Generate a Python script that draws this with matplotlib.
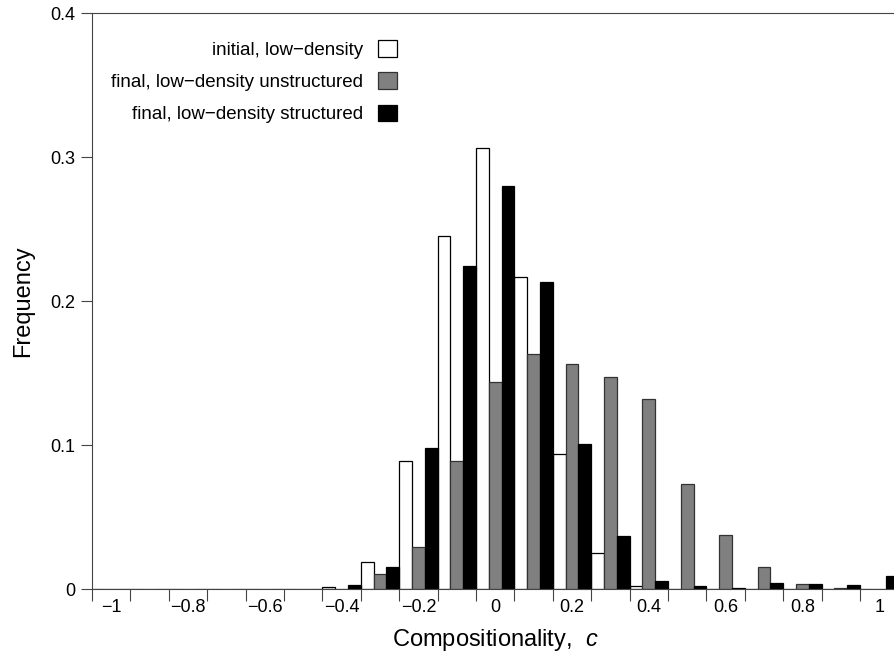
import matplotlib.pyplot as plt
import numpy as np
from matplotlib.ticker import FixedLocator, NullFormatter

plt.rcParams['font.family'] = ['Liberation Sans', 'DejaVu Sans']
plt.rcParams['mathtext.fontset'] = 'custom'
plt.rcParams['mathtext.rm'] = 'Liberation Sans'
plt.rcParams['mathtext.it'] = 'Liberation Sans:italic'

# bin centres of compositionality c
centers = np.round(np.arange(-1.0, 1.01, 0.1), 2)

initial_low = [0, 0, 0, 0, 0, 0, 0.0015, 0.019, 0.089, 0.245, 0.306,
               0.217, 0.0935, 0.025, 0.0023, 0, 0, 0, 0, 0, 0]
final_unstructured = [0, 0, 0, 0, 0, 0, 0, 0.0106, 0.029, 0.0887, 0.144,
                      0.163, 0.156, 0.147, 0.132, 0.073, 0.0375, 0.015, 0.0037, 0.0005, 0]
final_structured = [0, 0, 0, 0, 0, 0, 0.003, 0.015, 0.098, 0.224, 0.280,
                    0.213, 0.101, 0.037, 0.0058, 0.002, 0.001, 0.004, 0.0037, 0.003, 0.0088]

labels = ["initial, low\u2212density",
          "final, low\u2212density unstructured",
          "final, low\u2212density structured"]

xtick_vals = [-1, -0.8, -0.6, -0.4, -0.2, 0, 0.2, 0.4, 0.6, 0.8, 1]
ytick_vals = [0, 0.1, 0.2, 0.3, 0.4]

fig = plt.figure(figsize=(8.95, 6.56), dpi=100)
ax = fig.add_axes([92 / 895, 67 / 656, 806.4 / 895, 576 / 656])

w = 0.1 / 3
spine_col = '#444444'
ax.bar(centers - w, initial_low, width=w, color='white', edgecolor='black',
       linewidth=0.9, label=labels[0])
ax.bar(centers, final_unstructured, width=w, color='#808080', edgecolor='#333333',
       linewidth=0.9, label=labels[1])
ax.bar(centers + w, final_structured, width=w, color='black', edgecolor='black',
       linewidth=0.9, label=labels[2])

ax.set_xlim(-1.05, 1.05)
ax.set_ylim(0, 0.4)

# ticks at bin edges, labels at bin centres
edges = np.round(np.arange(-1.05, 1.06, 0.1), 2)
ax.xaxis.set_major_locator(FixedLocator(edges))
ax.xaxis.set_major_formatter(NullFormatter())
ax.set_xticks(xtick_vals, minor=True)
ax.set_xticklabels([("%g" % v).replace('-', '\u2212') for v in xtick_vals],
                   minor=True)
ax.tick_params(axis='x', which='major', direction='out', length=8.6,
               width=0.8, color=spine_col)
ax.tick_params(axis='x', which='minor', length=0, pad=7, labelsize=13)

ax.set_yticks(ytick_vals)
ax.set_yticklabels(["%g" % v for v in ytick_vals])
ax.tick_params(axis='y', direction='out', length=8, width=0.8,
               color=spine_col, pad=4, labelsize=13)

for s in ax.spines.values():
    s.set_color(spine_col)
    s.set_linewidth(0.8)

ax.set_xlabel("Compositionality,  $c$", fontsize=17, labelpad=8)
ax.set_ylabel("Frequency", fontsize=17, labelpad=12)

leg = ax.legend(loc='upper right', bbox_to_anchor=(397 / 895, 1 - 40 / 656),
                bbox_transform=fig.transFigure, frameon=False, markerfirst=False,
                fontsize=13.5, handlelength=1.0, handleheight=1.0,
                handletextpad=0.8, labelspacing=0.72, borderpad=0,
                borderaxespad=0)

fig.savefig("out.png", dpi=100)
